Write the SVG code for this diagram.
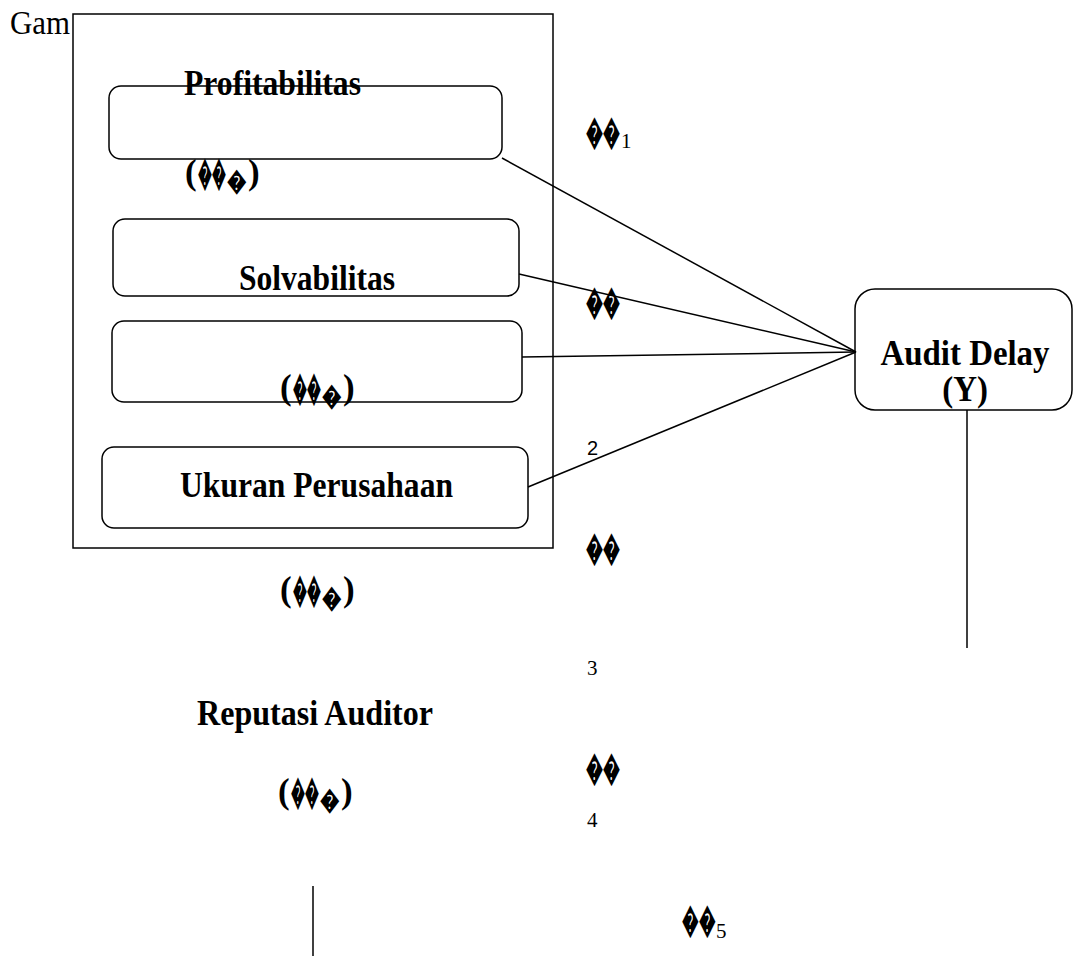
<svg xmlns="http://www.w3.org/2000/svg" width="1073" height="956" viewBox="0 0 1073 956">
<style>
.box{fill:none;stroke:#000;stroke-width:1.5}
.ln{stroke:#000;stroke-width:1.5;fill:none}
.b{font-family:"Liberation Serif","Times New Roman",serif;font-weight:bold;font-size:35px;fill:#000}
.r{font-family:"Liberation Serif","Times New Roman",serif;font-size:34px;fill:#000}
.d{font-family:"Liberation Serif","Times New Roman",serif;font-weight:bold;font-size:34px;fill:#000}
.ds{font-family:"Liberation Serif","Times New Roman",serif;font-weight:bold;font-size:26px;fill:#000}
.sub{font-family:"Liberation Serif","Times New Roman",serif;font-size:21px;fill:#000}
.n{font-family:"Liberation Sans",Arial,sans-serif;font-size:20px;fill:#000}
</style>
<rect width="1073" height="956" fill="#fff"/>
<text class="r" x="10" y="34" textLength="60" lengthAdjust="spacingAndGlyphs">Gam</text>
<g id="frame"><rect class="box" x="73" y="14" width="480" height="534"/></g>
<g id="connectors">
<line class="ln" x1="502" y1="158" x2="856" y2="352"/>
<line class="ln" x1="519" y1="274" x2="856" y2="352"/>
<line class="ln" x1="522" y1="357" x2="856" y2="352"/>
<line class="ln" x1="528" y1="487" x2="856" y2="352"/>
<line class="ln" x1="967" y1="410" x2="967" y2="648"/>
<line class="ln" x1="313" y1="886" x2="313" y2="956"/>
</g>
<g id="profitabilitas">
<rect class="box" x="109" y="86" width="393" height="73" rx="12"/>
<text class="b" x="184" y="95" textLength="177" lengthAdjust="spacingAndGlyphs">Profitabilitas</text>
<text class="b" x="185" y="184">(</text>
<text class="d" transform="translate(198 185) scale(0.41 1)">��</text>
<text class="ds" transform="translate(227 190) scale(0.75 1)">�</text>
<text class="b" x="248" y="184">)</text>
</g>
<g id="solvabilitas">
<rect class="box" x="113" y="219" width="406" height="77" rx="12"/>
<text class="b" x="239" y="290" textLength="156" lengthAdjust="spacingAndGlyphs">Solvabilitas</text>
</g>
<g id="box3">
<rect class="box" x="112" y="321" width="410" height="81" rx="12"/>
<text class="b" x="280" y="399">(</text>
<text class="d" transform="translate(293 400) scale(0.41 1)">��</text>
<text class="ds" transform="translate(322 405) scale(0.75 1)">�</text>
<text class="b" x="343" y="399">)</text>
</g>
<g id="ukuran">
<rect class="box" x="102" y="447" width="426" height="81" rx="12"/>
<text class="b" x="180" y="497" textLength="273" lengthAdjust="spacingAndGlyphs">Ukuran Perusahaan</text>
</g>
<g id="x3">
<text class="b" x="280" y="601">(</text>
<text class="d" transform="translate(293 602) scale(0.41 1)">��</text>
<text class="ds" transform="translate(322 607) scale(0.75 1)">�</text>
<text class="b" x="343" y="601">)</text>
</g>
<g id="reputasi">
<text class="b" x="197" y="725" textLength="236" lengthAdjust="spacingAndGlyphs">Reputasi Auditor</text>
<text class="b" x="278" y="803">(</text>
<text class="d" transform="translate(291 804) scale(0.41 1)">��</text>
<text class="ds" transform="translate(320 809) scale(0.75 1)">�</text>
<text class="b" x="341" y="803">)</text>
</g>
<g id="audit">
<rect class="box" x="855" y="289" width="217" height="121" rx="20"/>
<text class="b" font-size="32" transform="translate(965 0) scale(0.94 1)" text-anchor="middle"><tspan x="0" y="365">Audit Delay</tspan><tspan x="0" y="401" font-size="35">(Y)</tspan></text>
</g>
<g id="labels">
<text class="d" transform="translate(586 144) scale(0.5 1)">��</text>
<text class="sub" x="621" y="148">1</text>
<text class="d" transform="translate(586 314) scale(0.5 1)">��</text>
<text class="n" x="587" y="455">2</text>
<text class="d" transform="translate(586 560) scale(0.5 1)">��</text>
<text class="sub" x="587" y="675">3</text>
<text class="d" transform="translate(586 780) scale(0.5 1)">��</text>
<text class="sub" x="587" y="827">4</text>
<text class="d" transform="translate(682 932) scale(0.49 1)">��</text>
<text class="sub" x="716" y="938">5</text>
</g>
</svg>
